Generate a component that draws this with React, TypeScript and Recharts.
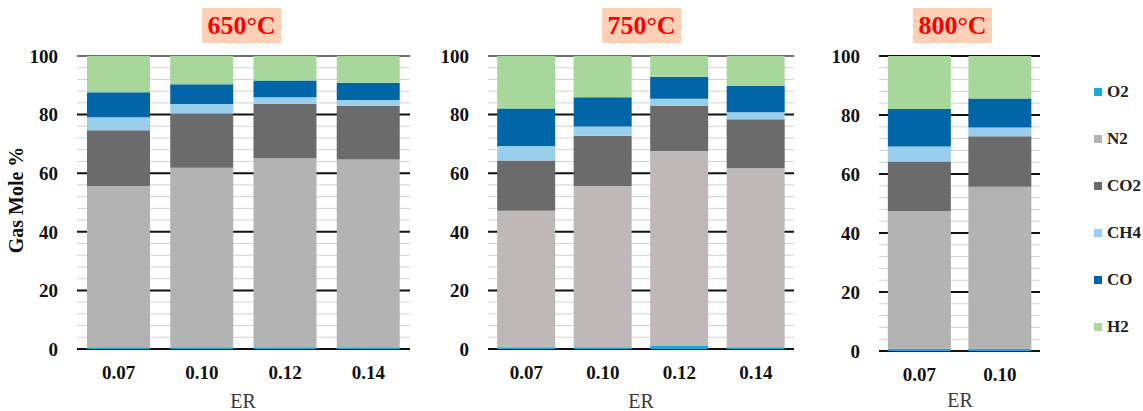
import React from 'react';
import { BarChart, Bar, XAxis, YAxis, CartesianGrid } from 'recharts';

// gas species, bottom to top of each stack
const gases = ['O2', 'N2', 'CO2', 'CH4', 'CO', 'H2'];
const gasColors = ['#14A8E0', '#B3B3B3', '#6B6B6B', '#98CFEC', '#0066A8', '#A8D79B'];

// y grid every 4, labels every 20
const yTicks = [0, 4, 8, 12, 16, 20, 24, 28, 32, 36, 40, 44, 48, 52, 56, 60, 64, 68, 72, 76, 80, 84, 88, 92, 96, 100];

// 650 °C
const er650 = ['0.07', '0.10', '0.12', '0.14'];
const o2_650 = [0.6, 0.6, 0.6, 0.6];
const n2_650 = [55.0, 61.3, 64.5, 64.1];
const co2_650 = [19.1, 18.5, 18.5, 18.2];
const ch4_650 = [4.4, 3.2, 2.3, 2.1];
const co_650 = [8.5, 6.8, 5.7, 5.9];
const h2_650 = [12.4, 9.6, 8.4, 9.1];

// 750 °C
const er750 = ['0.07', '0.10', '0.12', '0.14'];
const o2_750 = [0.6, 0.6, 1.0, 0.6];
const n2_750 = [46.6, 55.0, 66.6, 61.1];
const co2_750 = [17.1, 17.2, 15.3, 16.7];
const ch4_750 = [5.0, 3.1, 2.5, 2.4];
const co_750 = [12.8, 10.0, 7.5, 9.0];
const h2_750 = [17.9, 14.1, 7.1, 10.2];

// 800 °C
const er800 = ['0.07', '0.10'];
const o2_800 = [0.8, 0.8];
const n2_800 = [46.7, 54.9];
const co2_800 = [16.7, 17.1];
const ch4_800 = [5.1, 3.0];
const co_800 = [12.7, 9.8];
const h2_800 = [18.0, 14.4];

const serif = 'Liberation Serif, Times New Roman, serif';

function build(cats: string[], cols: number[][]) {
  return cats.map((er, i) => {
    const row: any = { er };
    gases.forEach((g, k) => { row[g] = cols[k][i]; });
    return row;
  });
}

const data650 = build(er650, [o2_650, n2_650, co2_650, ch4_650, co_650, h2_650]);
const data750 = build(er750, [o2_750, n2_750, co2_750, ch4_750, co_750, h2_750]);
const data800 = build(er800, [o2_800, n2_800, co2_800, ch4_800, co_800, h2_800]);

// every 5th line (0, 20, 40 ...) is a black major line
const gridLine = (p: any) => (
  <line key={p.key} x1={p.x1} x2={p.x2} y1={p.y1} y2={p.y2}
    stroke={p.index % 5 === 0 ? '#111' : '#D2D2D2'} strokeWidth={p.index % 5 === 0 ? 2 : 1} />
);

const tickFont = { fontFamily: serif, fontSize: 19, fontWeight: 700, fill: '#111' };
const yLabel = (v: number) => (v % 20 === 0 ? String(v) : '');

function Panel({ data, width, yWidth, right, bottom, gap, n2Color, ml }: any) {
  return (
    <div style={{ marginLeft: ml, width, height: 411 }}>
      <BarChart width={width} height={411} data={data} barCategoryGap={gap}
        margin={{ top: 56, right, bottom, left: 0 }}>
        <CartesianGrid vertical={false} horizontal={gridLine} />
        <XAxis dataKey="er" axisLine={false} tickLine={false} tickMargin={11} tick={tickFont} />
        <YAxis domain={[0, 100]} ticks={yTicks} interval={0} axisLine={false} tickLine={false}
          width={yWidth} tickMargin={13} tick={tickFont} tickFormatter={yLabel} />
        {gases.map((g, k) => (
          <Bar key={g} dataKey={g} stackId="a" isAnimationActive={false}
            fill={g === 'N2' && n2Color ? n2Color : gasColors[k]} />
        ))}
      </BarChart>
    </div>
  );
}

const titleStyle: React.CSSProperties = {
  position: 'absolute', top: 8, height: 35, width: 79, background: '#FFD0B6', color: '#FF0000',
  fontFamily: serif, fontWeight: 700, fontSize: 26, lineHeight: '35px', textAlign: 'center',
};

const erStyle: React.CSSProperties = {
  position: 'absolute', top: 391, width: 60, marginLeft: -30, textAlign: 'center',
  fontFamily: serif, fontSize: 20, color: '#3a3a3a', lineHeight: '20px',
};

export default function App() {
  return (
    <div style={{ position: 'absolute', left: 0, top: 0, width: 1143, height: 411, background: '#fff' }}>
      <div style={{ display: 'flex' }}>
        <Panel data={data650} width={420} yWidth={77} right={10} bottom={32} gap="12%" ml={0} />
        <Panel data={data750} width={370} yWidth={58} right={6} bottom={32} gap="12%" n2Color="#BEB8B8" ml={10} />
        <Panel data={data800} width={230} yWidth={59} right={10} bottom={30} gap="11%" ml={20} />
      </div>

      <div style={{ ...titleStyle, left: 202 }}>650°C</div>
      <div style={{ ...titleStyle, left: 602 }}>750°C</div>
      <div style={{ ...titleStyle, left: 913 }}>800°C</div>

      <div style={{ ...erStyle, left: 243 }}>ER</div>
      <div style={{ ...erStyle, left: 641 }}>ER</div>
      <div style={{ ...erStyle, left: 960, top: 390 }}>ER</div>

      <div style={{
        position: 'absolute', left: 16, top: 200, transform: 'translate(-50%, -50%) rotate(-90deg)',
        whiteSpace: 'nowrap', fontFamily: serif, fontWeight: 700, fontSize: 20, color: '#111',
      }}>Gas Mole %</div>

      {gases.map((g, k) => (
        <div key={g} style={{
          position: 'absolute', left: 1094, top: 92 + k * 47 - 12, height: 24, display: 'flex', alignItems: 'center',
          fontFamily: serif, fontWeight: 700, fontSize: 17, color: '#222', whiteSpace: 'nowrap',
        }}>
          <span style={{ display: 'inline-block', width: 8, height: 8, background: gasColors[k], marginRight: 5 }} />
          {g}
        </div>
      ))}
    </div>
  );
}
